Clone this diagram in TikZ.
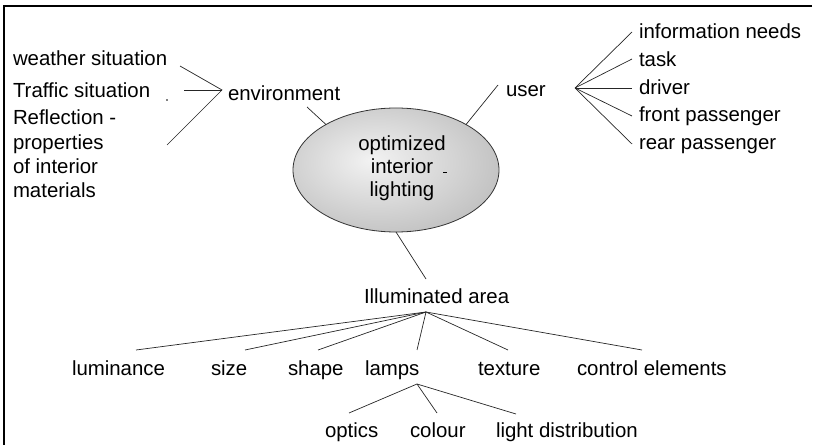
\documentclass[tikz,border=0pt]{standalone}
\usepackage{fontspec}
\setmainfont{Liberation Sans}
\usetikzlibrary{shapes.geometric}

% soft grey radial fill for the central oval (edge of the oval = 50bp)
\pgfdeclareradialshading{ovalshade}{\pgfpoint{-6bp}{4bp}}{%
  color(0bp)=(black!5); color(52bp)=(black!38); color(80bp)=(black!38)}

\tikzset{
  lbl/.style={font=\fontsize{20.4}{24}\selectfont, inner sep=0pt, outer sep=0pt, anchor=base west},
  clbl/.style={lbl, anchor=base},
  link/.style={line width=0.7pt, draw=black!85},
  frame/.style={line width=1.3pt, draw=black},
  oval/.style={ellipse, draw=black!80, line width=0.8pt, shade, shading=ovalshade,
               minimum width=206pt, minimum height=124pt, inner sep=0pt, outer sep=0pt}
}

\begin{document}
\begin{tikzpicture}[x=1pt, y=-1pt]
\useasboundingbox (0,0) rectangle (814,446);

% open frame: top and left edges only
\draw[frame] (812,6) -- (4,6) -- (4,445);

% central oval
\node[oval] (ell) at (396,170) {};
\node[clbl] (opt) at (402,151) {optimized};
\node[clbl] (int) at (402,174) {interior};
\node[clbl] (lig) at (402,197) {lighting};
\draw[line width=1.1pt] (443,172.5) -- (447,172.5);

% environment branch
\node[lbl] (weather) at (13,66) {weather situation};
\node[lbl] (traffic) at (13,98) {Traffic situation};
\node[lbl] (refl) at (13,125) {Reflection -};
\node[lbl] (prop) at (13,150) {properties};
\node[lbl] (ofint) at (13,174) {of interior};
\node[lbl] (mat) at (13,198) {materials};
\fill (167,100) circle (0.8);
\node[lbl] (env) at (228,101) {environment};

\coordinate (envhub) at (222,90);
\coordinate (wEnd) at (180,66);
\coordinate (tEnd) at (184,90);
\coordinate (rEnd) at (167,145);
\coordinate (envEnd) at (307,107);
\draw[link] (wEnd) -- (envhub) -- (rEnd);
\draw[link] (tEnd) -- (envhub);
\draw[link] (envEnd) -- (ell.147);

% user branch
\node[lbl] (user) at (506,97) {user};
\coordinate (userEnd) at (498,85);
\draw[link] (userEnd) -- (ell.33);

\node[lbl] (info) at (639,39) {information needs};
\node[lbl] (task) at (639,67) {task};
\node[lbl] (drv) at (639,95) {driver};
\node[lbl] (front) at (639,122) {front passenger};
\node[lbl] (rear) at (639,150) {rear passenger};

\coordinate (userhub) at (575,88);
\coordinate (iEnd) at (632,32);
\coordinate (kEnd) at (632,59);
\coordinate (dEnd) at (632,88);
\coordinate (fEnd) at (632,116);
\coordinate (pEnd) at (632,144);
\foreach \e in {iEnd,kEnd,dEnd,fEnd,pEnd}
  \draw[link] (userhub) -- (\e);

% illuminated area branch
\node[lbl] (area) at (364,304) {Illuminated area};
\coordinate (areaTop) at (426,279);
\draw[link] (ell.south) -- (areaTop);

\node[lbl] (lum) at (72,375) {luminance};
\node[lbl] (size) at (211,375) {size};
\node[lbl] (shp) at (288,375) {shape};
\node[lbl] (lamps) at (365,375) {lamps};
\node[lbl] (tex) at (478,375) {texture};
\node[lbl] (ctrl) at (577,375) {control elements};

\coordinate (areahub) at (426,312);
\coordinate (lumEnd) at (136,350);
\coordinate (sizeEnd) at (245,350);
\coordinate (shpEnd) at (318,350);
\coordinate (lampEnd) at (417,350);
\coordinate (texEnd) at (508,350);
\coordinate (ctrlEnd) at (642,350);
\foreach \e in {lumEnd,sizeEnd,shpEnd,lampEnd,texEnd,ctrlEnd}
  \draw[link] (areahub) -- (\e);

% lamps sub-branch
\node[lbl] (optics) at (325,437) {optics};
\node[lbl] (colour) at (410,437) {colour};
\node[lbl] (ldist) at (496,437) {light distribution};

\coordinate (lamphub) at (417,384);
\coordinate (optEnd) at (349,413);
\coordinate (colEnd) at (437,413);
\coordinate (ldEnd) at (516,414);
\foreach \e in {optEnd,colEnd,ldEnd}
  \draw[link] (lamphub) -- (\e);
\end{tikzpicture}
\end{document}
